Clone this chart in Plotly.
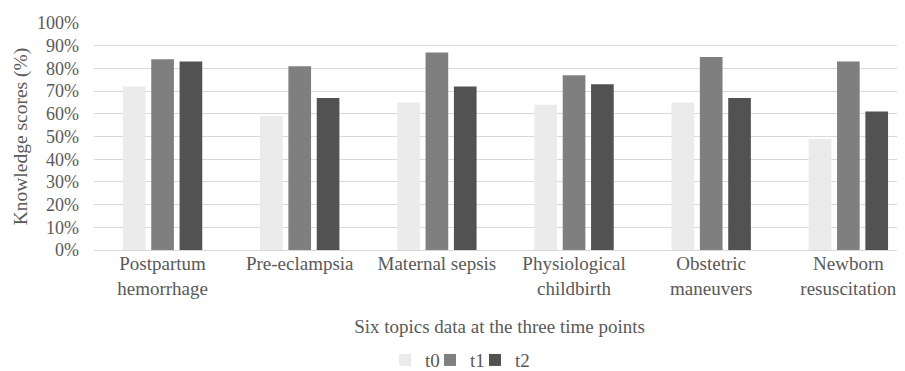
import plotly.graph_objects as go

categories = ["Postpartum<br>hemorrhage", "Pre-eclampsia", "Maternal sepsis",
              "Physiological<br>childbirth", "Obstetric<br>maneuvers", "Newborn<br>resuscitation"]
t0 = [0.72, 0.59, 0.65, 0.64, 0.65, 0.49]
t1 = [0.84, 0.81, 0.87, 0.77, 0.85, 0.83]
t2 = [0.83, 0.67, 0.72, 0.73, 0.67, 0.61]
series_names = ["t0", "t1", "t2"]
colors = ["#EBEBEB", "#7F7F7F", "#525252"]

FONT = "Liberation Serif"
TXT = "#595959"

legend_ids = ["legend", "legend2", "legend3"]
legend_x = [0.3588, 0.4143, 0.4698]

fig = go.Figure()
for name, vals, col, lid in zip(series_names, [t0, t1, t2], colors, legend_ids):
    fig.add_trace(go.Bar(x=categories, y=vals, name=name, legend=lid,
                         marker=dict(color=col, line=dict(width=0))))

legend_style = dict(orientation="h", xanchor="left", y=-0.485, yanchor="middle",
                    font=dict(family=FONT, size=19, color=TXT), itemwidth=30,
                    bgcolor="rgba(0,0,0,0)")

# page body has an 8px margin, so the figure is 8px smaller than the window
fig.update_layout(
    width=897, height=363,
    margin=dict(l=86, r=0, t=15, b=121.3, autoexpand=False),
    paper_bgcolor="white", plot_bgcolor="white",
    barmode="group", bargap=0.38, bargroupgap=0.2,
    font=dict(family=FONT, size=19, color=TXT),
    showlegend=True,
    legend=dict(x=legend_x[0], **legend_style),
    legend2=dict(x=legend_x[1], **legend_style),
    legend3=dict(x=legend_x[2], **legend_style),
)
fig.update_xaxes(
    range=[-0.5, 5.413], showgrid=False, showline=False, ticks="",
    tickfont=dict(family=FONT, size=19, color=TXT),
    title=dict(text="Six topics data at the three time points",
               font=dict(family=FONT, size=19, color=TXT), standoff=21),
    automargin=False,
)
fig.update_yaxes(
    range=[0, 1], tickvals=[i / 10 for i in range(11)], tickformat=".0%",
    showgrid=True, gridcolor="#D9D9D9", gridwidth=1.3,
    zeroline=True, zerolinecolor="#D9D9D9", zerolinewidth=1.3,
    showline=False, ticks="", ticklabelstandoff=14,
    tickfont=dict(family=FONT, size=18, color=TXT),
    title=dict(text="Knowledge scores (%)", font=dict(family=FONT, size=19.5, color=TXT), standoff=4),
    automargin=False,
)

fig.write_html("out.html")
